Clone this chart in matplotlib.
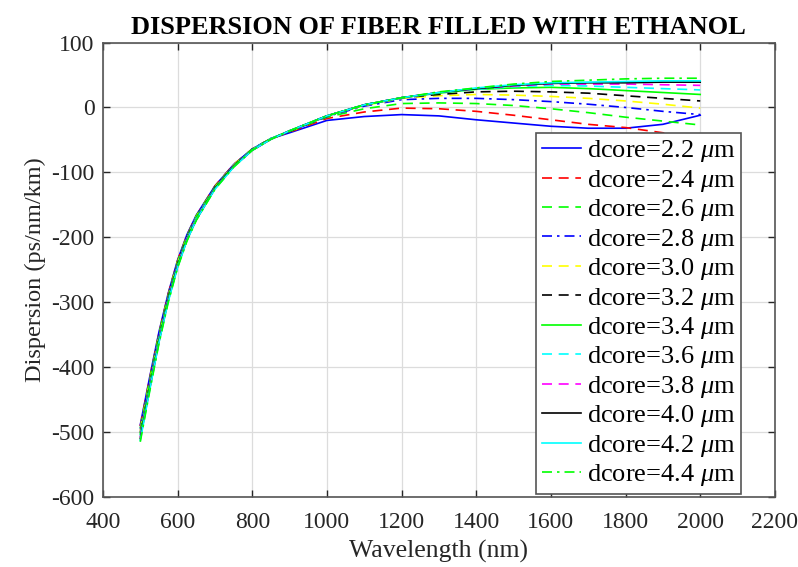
import numpy as np
import matplotlib
matplotlib.use("Agg")
import matplotlib.pyplot as plt

plt.rcParams['font.family'] = ['Liberation Serif', 'DejaVu Serif']
plt.rcParams['mathtext.fontset'] = 'custom'
plt.rcParams['mathtext.rm'] = 'Liberation Serif'
plt.rcParams['mathtext.it'] = 'Liberation Serif:italic'
plt.rcParams['axes.unicode_minus'] = False

# wavelength (nm)
wl = [500, 525, 550, 575, 600, 625, 650, 700, 750, 800, 850, 900, 1000,
      1100, 1200, 1300, 1400, 1500, 1600, 1700, 1800, 1900, 2000]

# dispersion (ps/nm/km) for each core diameter
d22 = [-489, -416, -346, -286, -235, -196, -166, -121, -88, -64, -48, -39, -20,
       -14, -11, -13, -19, -24, -29, -32, -32, -26, -12]
d24 = [-491, -418, -348, -287, -236, -197, -167, -121, -88, -64, -48, -38, -17,
       -7, -1, -2, -6, -12, -19, -26, -31, -39, -47]
d26 = [-494, -420, -349, -289, -237, -198, -167, -122, -89, -64, -48, -37, -15,
       -2, 6, 7, 6, 3, -2, -8, -15, -21, -27]
d28 = [-496, -422, -351, -290, -238, -199, -168, -122, -89, -64, -48, -37, -14,
       2, 12, 14, 14, 12, 9, 5, 0, -6, -11]
d30 = [-498, -424, -353, -291, -239, -200, -169, -123, -89, -65, -48, -37, -13,
       3, 14, 18, 20, 19, 17, 14, 10, 5, -1]
d32 = [-501, -426, -354, -292, -240, -200, -170, -123, -90, -65, -48, -37, -13,
       4, 15, 20, 24, 25, 24, 22, 18, 14, 10]
d34 = [-503, -428, -356, -294, -242, -202, -170, -124, -90, -65, -48, -36, -13,
       4, 15, 22, 28, 30, 31, 29, 26, 23, 20]
d36 = [-506, -430, -357, -295, -243, -202, -171, -124, -91, -65, -48, -36, -13,
       4, 15, 23, 28, 32, 34, 33, 31, 29, 27]
d38 = [-508, -432, -359, -296, -244, -203, -172, -125, -91, -66, -49, -36, -13,
       4, 15, 23, 29, 33, 36, 36, 36, 35, 34]
d40 = [-510, -434, -361, -297, -245, -204, -173, -125, -91, -66, -49, -36, -13,
       4, 15, 23, 29, 34, 37, 38, 38, 39, 39]
d42 = [-513, -436, -362, -299, -246, -205, -173, -126, -92, -66, -49, -36, -13,
       4, 15, 23, 30, 35, 38, 39, 40, 41, 41]
d44 = [-515, -438, -364, -300, -247, -206, -174, -126, -92, -66, -49, -36, -13,
       4, 15, 24, 30, 36, 40, 42, 44, 45, 45]

cores = ['2.2', '2.4', '2.6', '2.8', '3.0', '3.2', '3.4', '3.6', '3.8', '4.0', '4.2', '4.4']
series = [d22, d24, d26, d28, d30, d32, d34, d36, d38, d40, d42, d44]
colors = ['#0000ff', '#ff0000', '#00ff00', '#0000ff', '#ffff00', '#000000',
          '#00ff00', '#00ffff', '#ff00ff', '#000000', '#00ffff', '#00ff00']
styles = ['-', '--', '--', '-.', '--', '--', '-', '--', '--', '-', '-', '-.']

fig = plt.figure(figsize=(7.98, 5.67), dpi=100)
ax = fig.add_axes([0.129, 0.1235, 0.842, 0.8015])

for d, vals, c, ls in zip(cores, series, colors, styles):
    kw = {}
    if ls == '--':
        kw['dashes'] = (6, 4)
    elif ls == '-.':
        kw['dashes'] = (6, 3, 1.5, 3)
    ax.plot(wl, vals, linestyle=ls, color=c, lw=1.2,
            label=r'dcore=' + d + r' $\mu$m', **kw)

ax.set_xlim(400, 2200)
ax.set_ylim(-600, 100)
ax.set_xticks(np.arange(400, 2201, 200))
ax.set_yticks(np.arange(-600, 101, 100))
ax.grid(True, color='#dcdcdc', lw=0.9)
ax.set_axisbelow(True)
ax.tick_params(direction='in', top=True, right=True, length=5,
               labelsize=17, colors='#262626', width=1)
ax.tick_params(axis='x', pad=11)
ax.tick_params(axis='y', pad=6)
for s in ax.spines.values():
    s.set_color('#555555')
    s.set_linewidth(1.2)

ax.set_xlabel('Wavelength (nm)', fontsize=18.5, color='#262626', labelpad=5)
ax.set_ylabel('Dispersion (ps/nm/km)', fontsize=17.5, color='#262626', labelpad=4)
ax.set_title('DISPERSION OF FIBER FILLED WITH ETHANOL', fontsize=19,
             fontweight='bold', pad=6)

leg = ax.legend(loc='lower right', bbox_to_anchor=(0.9494, 0.0066), fontsize=19,
                fancybox=False, framealpha=1, edgecolor='#555555',
                handlelength=1.5, handletextpad=0.2, labelspacing=0.13,
                borderpad=0.22, borderaxespad=0)
leg.get_frame().set_linewidth(1.2)

fig.savefig('out.png', dpi=100)
